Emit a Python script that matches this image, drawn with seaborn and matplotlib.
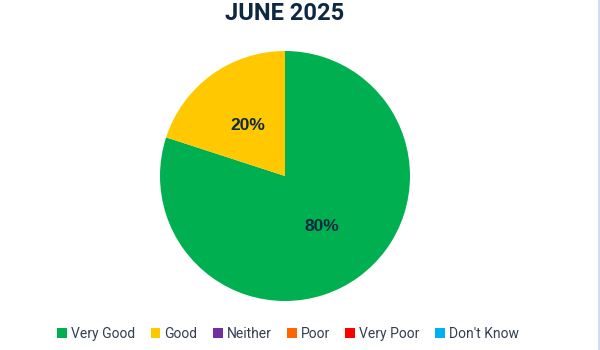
import matplotlib
matplotlib.use("Agg")
import matplotlib.pyplot as plt
import seaborn as sns
from matplotlib.lines import Line2D

categories = ["Very Good", "Good", "Neither", "Poor", "Very Poor", "Don't Know"]
values = [80, 20, 0, 0, 0, 0]
colors = ["#00B050", "#FFC800", "#7030A0", "#FF6600", "#FF0000", "#00B0F0"]
title = "JUNE 2025"

sns.set_theme(style="white")
plt.rcParams["font.family"] = ["Roboto", "DejaVu Sans"]

fig = plt.figure(figsize=(6, 3.5), dpi=100)
fig.patch.set_facecolor("white")
ax = fig.add_axes([160 / 600, 49 / 350, 250 / 600, 250 / 350])

def fmt(p):
    return f"{p:.0f}%" if p > 0.5 else ""

wedges, texts, autotexts = ax.pie(
    values, colors=colors, startangle=90, counterclock=False,
    autopct=fmt, pctdistance=0.5,
    wedgeprops=dict(linewidth=0),
    textprops=dict(color="#0E2841", fontsize=12.5, fontweight="bold",
                   family=["Liberation Sans", "DejaVu Sans"]),
)
ax.set_xlim(-1, 1)
ax.set_ylim(-1, 1)
ax.set_aspect("equal")
ax.axis("off")

fig.text(285 / 600, 1 - 13 / 350, title, ha="center", va="center",
         fontsize=17, fontweight="bold", color="#0E2841")

leg = fig.legend(wedges, categories, loc="center", bbox_to_anchor=(288 / 600, 1 - 334 / 350),
                 ncol=6, frameon=False, fontsize=10, handlelength=0.7, handleheight=0.7,
                 handletextpad=0.3, columnspacing=1.1, labelcolor="#333F50")

fig.add_artist(Line2D([598.5 / 600, 598.5 / 600], [0, 1], color="#C6D9F1", linewidth=1.2,
                      transform=fig.transFigure))

fig.savefig("out.png", dpi=100)
